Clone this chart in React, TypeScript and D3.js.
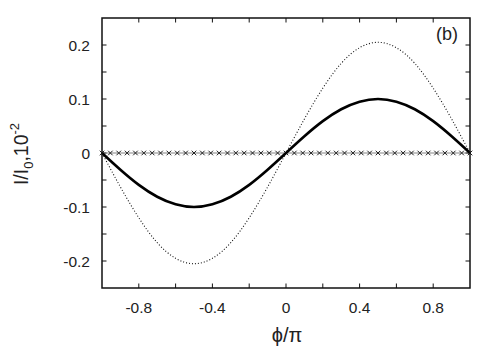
import React from "react";
import * as d3 from "d3";

const xs = [-1, -0.9, -0.8, -0.7, -0.6, -0.5, -0.4, -0.3, -0.2, -0.1, 0, 0.1, 0.2, 0.3, 0.4, 0.5, 0.6, 0.7, 0.8, 0.9, 1];
const solidValues = [0, -0.031, -0.059, -0.081, -0.095, -0.1, -0.095, -0.081, -0.059, -0.031, 0, 0.031, 0.059, 0.081, 0.095, 0.1, 0.095, 0.081, 0.059, 0.031, 0];
const dottedValues = [0, -0.063, -0.12, -0.166, -0.195, -0.205, -0.195, -0.166, -0.12, -0.063, 0, 0.063, 0.12, 0.166, 0.195, 0.205, 0.195, 0.166, 0.12, 0.063, 0];
const crossCount = 45;
const crossValue = 0;
const xTickLabels = [-0.8, -0.4, 0, 0.4, 0.8];
const xTicks = [-0.8, -0.6, -0.4, -0.2, 0, 0.2, 0.4, 0.6, 0.8];
const yTickLabels = [-0.2, -0.1, 0, 0.1, 0.2];
const yTicks = [-0.2, -0.15, -0.1, -0.05, 0, 0.05, 0.1, 0.15, 0.2];

const W = 478, H = 346;
const L = 102, R = 470, T = 18, B = 288;
const font = "'Liberation Sans', Arial, sans-serif";

export default function App() {
  const x = d3.scaleLinear().domain([-1, 1]).range([L, R]);
  const y = d3.scaleLinear().domain([-0.25, 0.25]).range([B, T]);
  const line = d3.line<[number, number]>().x(d => x(d[0])).y(d => y(d[1])).curve(d3.curveNatural);
  const solid = xs.map((v, i) => [v, solidValues[i]] as [number, number]);
  const dotted = xs.map((v, i) => [v, dottedValues[i]] as [number, number]);
  const crossXs = d3.range(crossCount).map(i => -1 + (2 * i) / (crossCount - 1));
  const fmt = (v: number) => (v === 0 ? "0" : String(v));
  const tl = 4.5;
  return (
    <svg width={W} height={H} style={{ position: "absolute", left: 0, top: 0 }}>
      <rect width={W} height={H} fill="#fff" />
      {xTicks.map(t => (
        <g key={"xt" + t} stroke="#111" strokeWidth={1}>
          <line x1={x(t)} x2={x(t)} y1={B} y2={B - tl} />
          <line x1={x(t)} x2={x(t)} y1={T} y2={T + tl} />
        </g>
      ))}
      {yTicks.map(t => (
        <g key={"yt" + t} stroke="#111" strokeWidth={1}>
          <line x1={L} x2={L + tl} y1={y(t)} y2={y(t)} />
          <line x1={R} x2={R - tl} y1={y(t)} y2={y(t)} />
        </g>
      ))}
      <line x1={x(-1)} x2={x(1)} y1={y(crossValue)} y2={y(crossValue)} stroke="#666" strokeWidth={0.8} />
      {crossXs.map((cx, i) => (
        <path key={"c" + i}
          d={`M${x(cx) - 2.3},${y(crossValue) - 2.3}L${x(cx) + 2.3},${y(crossValue) + 2.3}M${x(cx) - 2.3},${y(crossValue) + 2.3}L${x(cx) + 2.3},${y(crossValue) - 2.3}`}
          stroke="#222" strokeWidth={1} fill="none" />
      ))}
      <path d={line(dotted) || ""} fill="none" stroke="#111" strokeWidth={1.1} strokeDasharray="1 2" />
      <path d={line(solid) || ""} fill="none" stroke="#000" strokeWidth={2.6} />
      <rect x={L} y={T} width={R - L} height={B - T} fill="none" stroke="#111" strokeWidth={1.5} />
      {xTickLabels.map(t => (
        <text key={"xl" + t} x={x(t)} y={313} textAnchor="middle" fontFamily={font} fontSize={15.5} fill="#222">{fmt(t)}</text>
      ))}
      {yTickLabels.map(t => (
        <text key={"yl" + t} x={90} y={y(t) + 5.5} textAnchor="end" fontFamily={font} fontSize={15.5} fill="#222">{fmt(t)}</text>
      ))}
      <text x={287} y={342} textAnchor="middle" fontFamily={font} fontSize={20} fill="#222">ϕ/π</text>
      <text transform={`translate(28,154) rotate(-90)`} textAnchor="middle" fontFamily={font} fontSize={19.5} fill="#222">
        I/I<tspan fontSize={13} dy={5}>0</tspan><tspan dy={-5}>,10</tspan><tspan fontSize={13} dy={-9}>-2</tspan>
      </text>
      <text x={458} y={40} textAnchor="end" fontFamily={font} fontSize={18} fill="#222">(b)</text>
    </svg>
  );
}
